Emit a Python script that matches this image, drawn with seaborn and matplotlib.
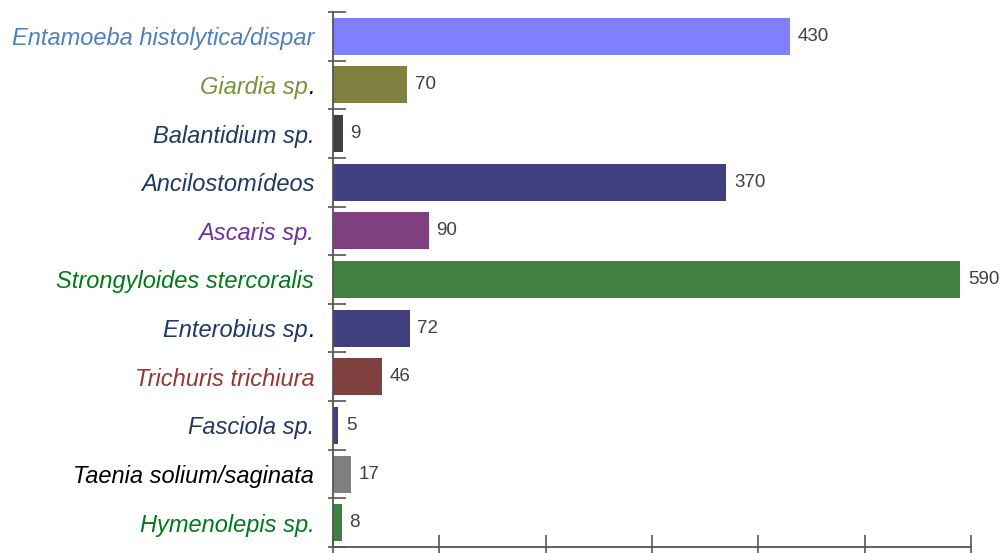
import matplotlib
matplotlib.use("Agg")
import matplotlib.pyplot as plt
import matplotlib.transforms as mtransforms
import seaborn as sns
import pandas as pd
from matplotlib.ticker import FixedLocator, NullFormatter

categories = [
    "Entamoeba histolytica/dispar",
    "Giardia sp.",
    "Balantidium sp.",
    "Ancilostomídeos",
    "Ascaris sp.",
    "Strongyloides stercoralis",
    "Enterobius sp.",
    "Trichuris trichiura",
    "Fasciola sp.",
    "Taenia solium/saginata",
    "Hymenolepis sp.",
]
values = [430, 70, 9, 370, 90, 590, 72, 46, 5, 17, 8]
bar_colors = ["#8080FF", "#808040", "#404040", "#404080", "#804080", "#408040",
              "#404080", "#804040", "#404080", "#808080", "#408040"]
label_colors = ["#4F81BD", "#77933C", "#1F3864", "#1F3864", "#7030A0", "#007A1A",
                "#1F3864", "#953735", "#1F3864", "#000000", "#007A1A"]
black_dot = [False, True, False, False, False, False, True, False, False, False, False]
x_ticks = [0, 100, 200, 300, 400, 500, 600]

df = pd.DataFrame({"cat": categories, "val": values})

sns.set_theme(style="white")
plt.rcParams["font.family"] = ["Liberation Sans", "DejaVu Sans"]

fig = plt.figure(figsize=(10.07, 5.53), dpi=100)
ax = fig.add_axes([333 / 1007, 6 / 553, (971 - 333) / 1007, (547 - 12) / 553])

sns.barplot(data=df, x="val", y="cat", hue="cat", palette=bar_colors, legend=False,
            orient="h", width=0.76, ax=ax, saturation=1, edgecolor="none")

ax.set_xlim(0, 600)
ax.set_ylim(len(categories) - 0.5, -0.5)
ax.set_xlabel("")
ax.set_ylabel("")

axis_col = "#555555"
for s in ["top", "right"]:
    ax.spines[s].set_visible(False)
for s in ["left", "bottom"]:
    ax.spines[s].set_color(axis_col)
    ax.spines[s].set_linewidth(1.3)

# x ticks: unlabeled, inward part + outward part
ax.set_xticks(x_ticks)
ax.xaxis.set_major_formatter(NullFormatter())
ax.xaxis.set_minor_locator(FixedLocator(x_ticks))
ax.xaxis.remove_overlapping_locs = False
ax.tick_params(axis="x", which="major", direction="in", length=9, width=1.2,
               color=axis_col, bottom=True)
ax.tick_params(axis="x", which="minor", direction="out", length=4.5, width=1.2,
               color=axis_col, bottom=True)

# y: labels at centers (no marks), marks at category boundaries
n = len(categories)
bounds = [i - 0.5 for i in range(n + 1)]
ax.set_yticks(range(n))
ax.set_yticklabels([c[:-1] if d else c for c, d in zip(categories, black_dot)])
ax.yaxis.set_minor_locator(FixedLocator(bounds))
ax.tick_params(axis="y", which="major", length=0, pad=13.5, labelsize=17)
ax.tick_params(axis="y", which="minor", direction="in", length=9, width=1.2,
               color=axis_col, left=True)

sec = ax.secondary_yaxis("left")
sec.set_yticks(bounds)
sec.yaxis.set_major_formatter(NullFormatter())
sec.tick_params(axis="y", which="major", direction="out", length=3.8, width=1.2,
                color=axis_col)
sec.tick_params(axis="y", which="minor", length=0)
sec.spines["left"].set_visible(False)

dot_shift = mtransforms.ScaledTranslation(-4.6 / 72, 0, fig.dpi_scale_trans)
for lab, col, d in zip(ax.get_yticklabels(), label_colors, black_dot):
    lab.set_color(col)
    lab.set_fontstyle("italic")
    if d:
        lab.set_transform(lab.get_transform() + dot_shift)

# black trailing dot for some labels
for i, dot in enumerate(black_dot):
    if dot:
        ax.annotate(".", xy=(0, i), xycoords=("axes fraction", "data"),
                    xytext=(-13.2, 0), textcoords="offset points",
                    ha="right", va="center_baseline", fontsize=17,
                    fontstyle="italic", color="black")

# value labels
for i, v in enumerate(values):
    ax.annotate(f"{v}", xy=(v, i), xytext=(5.5, 0), textcoords="offset points",
                ha="left", va="center", fontsize=13.5, color="#404040")

fig.savefig("out.png", dpi=100)
